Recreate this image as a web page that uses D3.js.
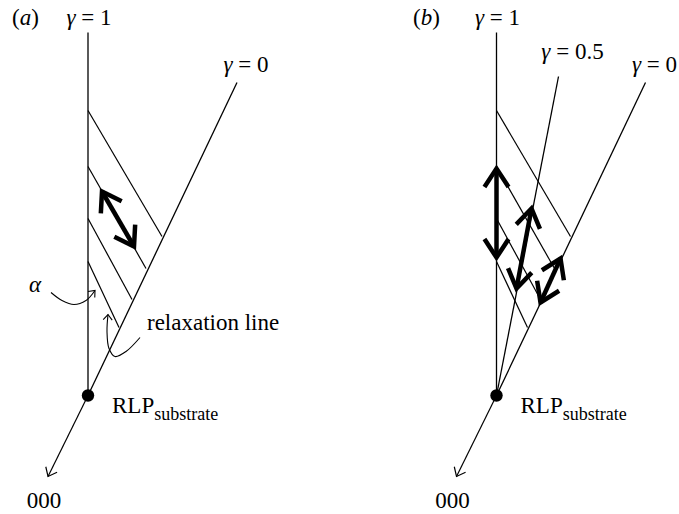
<!DOCTYPE html>
<html>
<head>
<meta charset="utf-8">
<script src="https://cdn.jsdelivr.net/npm/d3@7"></script>
<style>
body { margin: 0; background: #fff; }
text { font-family: "Liberation Serif", "Times New Roman", serif; fill: #000; }
</style>
</head>
<body>
<div id="vis"></div>
<script>
// reciprocal space, substrate peak at (0,0); x = q parallel, y = q perpendicular (arb. units)
var gammaA = ["1", "0"];
var gammaB = ["1", "0.5", "0"];
var gammaTops = {"1": [0, 3.63], "0.5": [0.62, 3.19], "0": [1.49, 3.13]};

// relaxation lines: start on gamma=1, end on gamma=0
var hatchStart = [[0, 2.85], [0, 2.29], [0, 1.77], [0, 1.34]];
var hatchEnd = [[0.74, 1.59], [0.58, 1.27], [0.44, 0.96], [0.31, 0.68]];

// thick double arrows (tip to tip)
var arrowsA = [[[0.14, 2.04], [0.46, 1.49]]];
var arrowsB = [
  [[0, 2.27], [0, 1.38]],
  [[0.35, 1.87], [0.20, 1.07]],
  [[0.64, 1.37], [0.44, 0.93]]
];

var originTip = [-0.40, -0.81];

// curved pointers in panel (a)
var alphaCurve = [[-0.37, 1.03], [-0.26, 0.95], [-0.14, 0.91], [-0.02, 0.95], [0.07, 1.05]];
var relaxCurve = [[0.52, 0.58], [0.38, 0.44], [0.27, 0.39], [0.21, 0.47], [0.19, 0.64], [0.20, 0.81]];

var width = 679, height = 514;

var svg = d3.select("#vis")
    .append("svg")
    .attr("width", width)
    .attr("height", height)
    .style("background", "#fff");

var y = d3.scaleLinear().domain([0, 1]).range([395.5, 295.5]);

function head(g, tip, from, len, ang, w) {
    var a = Math.atan2(from[1] - tip[1], from[0] - tip[0]);
    var p1 = [tip[0] + len * Math.cos(a + ang), tip[1] + len * Math.sin(a + ang)];
    var p2 = [tip[0] + len * Math.cos(a - ang), tip[1] + len * Math.sin(a - ang)];
    g.append("path")
        .attr("d", d3.line()([p1, tip, p2]))
        .attr("fill", "none")
        .attr("stroke", "#000")
        .attr("stroke-width", w)
        .attr("stroke-linejoin", "miter")
        .attr("stroke-linecap", "butt");
}

function drawPanel(opts) {
    var x = d3.scaleLinear().domain([0, 1]).range([opts.x0, opts.x0 + 100]);
    var g = svg.append("g");
    var pt = d => [x(d[0]), y(d[1])];

    // gamma lines
    g.selectAll(".gline")
        .data(opts.gammas)
        .join("line")
        .attr("x1", x(0)).attr("y1", y(0))
        .attr("x2", d => x(gammaTops[d][0]))
        .attr("y2", d => y(gammaTops[d][1]))
        .attr("stroke", "#000")
        .attr("stroke-width", 1.3);

    // relaxation lines
    g.selectAll(".hatch")
        .data(hatchStart)
        .join("line")
        .attr("x1", d => x(d[0])).attr("y1", d => y(d[1]))
        .attr("x2", (d, i) => x(hatchEnd[i][0]))
        .attr("y2", (d, i) => y(hatchEnd[i][1]))
        .attr("stroke", "#000")
        .attr("stroke-width", 1.2);

    // arrow to 000
    g.append("line")
        .attr("x1", x(0)).attr("y1", y(0))
        .attr("x2", x(originTip[0])).attr("y2", y(originTip[1]))
        .attr("stroke", "#000")
        .attr("stroke-width", 1.2);
    head(g, pt(originTip), pt([0, 0]), 10, 0.68, 1.2);

    // substrate peak
    g.append("circle")
        .attr("cx", x(0)).attr("cy", y(0))
        .attr("r", 6.2)
        .attr("fill", "#000");

    // thick double arrows
    opts.arrows.forEach(function (a) {
        var p = pt(a[0]), q = pt(a[1]);
        g.append("line")
            .attr("x1", p[0]).attr("y1", p[1])
            .attr("x2", q[0]).attr("y2", q[1])
            .attr("stroke", "#000")
            .attr("stroke-width", 4.5);
        head(g, p, q, 22, 0.58, 4.5);
        head(g, q, p, 22, 0.58, 4.5);
    });

    // labels
    var lab = g.append("text")
        .attr("x", opts.labelX).attr("y", 25)
        .style("font-size", "23px");
    lab.append("tspan").text("(");
    lab.append("tspan").style("font-style", "italic").text(opts.id);
    lab.append("tspan").text(")");

    var labOff = {"1": [1, -8], "0.5": [14, -18], "0": [9, -11]};
    opts.gammas.forEach(function (k) {
        var t = g.append("text")
            .attr("x", x(gammaTops[k][0]) + labOff[k][0])
            .attr("y", y(gammaTops[k][1]) + labOff[k][1])
            .attr("text-anchor", "middle")
            .style("font-size", "23px");
        t.append("tspan").style("font-style", "italic").text("\u03b3");
        t.append("tspan").text(" = " + k);
    });

    var r = g.append("text")
        .attr("x", x(0) + 24).attr("y", y(0) + 17)
        .style("font-size", "23px");
    r.append("tspan").text("RLP");
    r.append("tspan").attr("dy", 7).style("font-size", "18px").text("substrate");

    g.append("text")
        .attr("x", x(originTip[0]) - 4).attr("y", y(originTip[1]) + 31)
        .attr("text-anchor", "middle")
        .style("font-size", "23px")
        .text("000");

    return {g: g, x: x, pt: pt};
}

var pa = drawPanel({id: "a", x0: 88, labelX: 12, gammas: gammaA, arrows: arrowsA});
drawPanel({id: "b", x0: 496.5, labelX: 413, gammas: gammaB, arrows: arrowsB});

// curved pointers (a)
var curve = d3.line().x(d => pa.x(d[0])).y(d => y(d[1])).curve(d3.curveCatmullRom);
[alphaCurve, relaxCurve].forEach(function (c) {
    pa.g.append("path")
        .attr("d", curve(c))
        .attr("fill", "none")
        .attr("stroke", "#000")
        .attr("stroke-width", 1.1);
    head(pa.g, pa.pt(c[c.length - 1]), pa.pt(c[c.length - 2]), 7, 0.7, 1.1);
});

pa.g.append("text")
    .attr("x", pa.x(-0.53)).attr("y", y(1.04))
    .attr("text-anchor", "middle")
    .style("font-size", "23px")
    .style("font-style", "italic")
    .text("\u03b1");

pa.g.append("text")
    .attr("x", pa.x(0.59)).attr("y", y(0.66))
    .style("font-size", "23px")
    .text("relaxation line");
</script>
</body>
</html>
